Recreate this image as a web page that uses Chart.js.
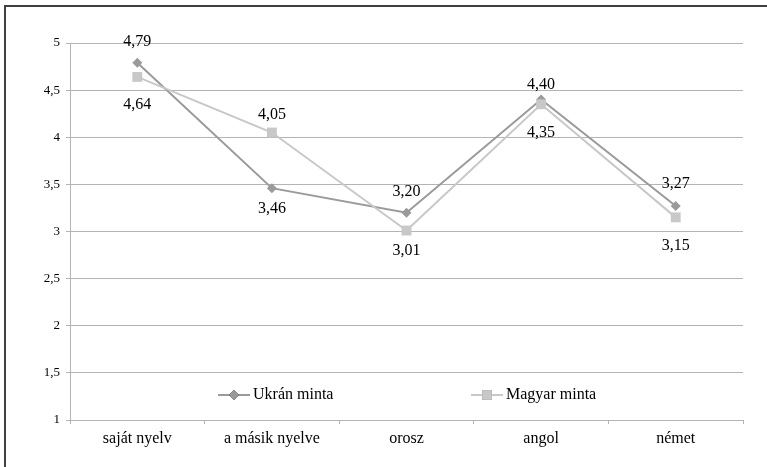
<!DOCTYPE html>
<html>
<head>
<meta charset="utf-8">
<script src="https://cdn.jsdelivr.net/npm/chart.js@4/dist/chart.umd.min.js"></script>
<style>
  html, body { margin: 0; padding: 0; background: #fff; }
  #wrap { width: 767px; height: 467px; position: relative; }
</style>
</head>
<body>
<div id="wrap"><canvas id="chart" width="767" height="467"></canvas></div>
<script>
// --- data ---
const categories = ['saját nyelv', 'a másik nyelve', 'orosz', 'angol', 'német'];
const ukranValues = [4.79, 3.46, 3.20, 4.40, 3.27];
const magyarValues = [4.64, 4.05, 3.01, 4.35, 3.15];
const seriesNames = ['Ukrán minta', 'Magyar minta'];
const yTicks = [1, 1.5, 2, 2.5, 3, 3.5, 4, 4.5, 5];

// label offsets (px from point), like excel placed them
const ukranLabelDy = [-21, 21, -21, -15, -22];
const magyarLabelDy = [28, -18, 20, 29, 28];

const FONT = '"Liberation Serif", "DejaVu Serif", serif';
const GRID = '#b4b4b4';
const UKR_COLOR = '#9a9a9a';
const MAG_COLOR = '#c8c8c8';

function fmt(v, digits) {
  return v.toFixed(digits).replace('.', ',');
}

// frame: only top + left edge visible (cropped picture)
const framePlugin = {
  id: 'frame',
  beforeDraw(chart) {
    const c = chart.ctx;
    c.save();
    c.fillStyle = '#fff';
    c.fillRect(0, 0, chart.width, chart.height);
    c.strokeStyle = '#404040';
    c.lineWidth = 2;
    c.beginPath();
    c.moveTo(5, chart.height);
    c.lineTo(5, 6);
    c.lineTo(chart.width, 6);
    c.stroke();
    c.restore();
  }
};

// value labels
const valueLabels = {
  id: 'valueLabels',
  afterDatasetsDraw(chart) {
    const c = chart.ctx;
    const offsets = [ukranLabelDy, magyarLabelDy];
    c.save();
    c.font = '16px ' + FONT;
    c.fillStyle = '#000';
    c.textAlign = 'center';
    c.textBaseline = 'middle';
    chart.data.datasets.forEach((ds, di) => {
      const meta = chart.getDatasetMeta(di);
      meta.data.forEach((pt, i) => {
        c.fillText(fmt(ds.data[i], 2), pt.x, pt.y + offsets[di][i]);
      });
    });
    c.restore();
  }
};

// legend sits inside the plot, near the bottom
const insideLegend = {
  id: 'insideLegend',
  afterDraw(chart) {
    const c = chart.ctx;
    const xs = [218, 471];
    const y = 395;
    c.save();
    chart.data.datasets.forEach((ds, i) => {
      const x0 = xs[i];
      c.strokeStyle = ds.borderColor;
      c.lineWidth = 2;
      c.beginPath();
      c.moveTo(x0, y);
      c.lineTo(x0 + 32, y);
      c.stroke();
      Chart.helpers.drawPoint(c, {
        pointStyle: ds.pointStyle,
        radius: ds.pointRadius,
        borderWidth: 0
      }, x0 + 16, y);
      c.fillStyle = ds.borderColor;
      c.fill();
      c.fillStyle = '#000';
      c.font = '16px ' + FONT;
      c.textAlign = 'left';
      c.textBaseline = 'middle';
      c.fillText(ds.label, x0 + 35, y);
    });
    c.restore();
  }
};

const ctx = document.getElementById('chart').getContext('2d');
new Chart(ctx, {
  type: 'line',
  data: {
    labels: categories,
    datasets: [
      {
        label: seriesNames[0],
        data: ukranValues,
        borderColor: UKR_COLOR,
        backgroundColor: UKR_COLOR,
        borderWidth: 2,
        pointStyle: 'rectRot',
        pointRadius: 5,
        pointBorderWidth: 0,
        tension: 0,
        order: 1
      },
      {
        label: seriesNames[1],
        data: magyarValues,
        borderColor: MAG_COLOR,
        backgroundColor: MAG_COLOR,
        borderWidth: 2,
        pointStyle: 'rect',
        pointRadius: 7,
        pointBorderWidth: 0,
        tension: 0,
        order: 0
      }
    ]
  },
  options: {
    responsive: false,
    animation: false,
    devicePixelRatio: 1,
    layout: { padding: { top: 43, right: 24, left: 0, bottom: 0 } },
    plugins: { legend: { display: false }, tooltip: { enabled: false } },
    scales: {
      x: {
        offset: true,
        grid: { offset: true, drawOnChartArea: false, color: GRID, tickLength: 4 },
        border: { color: GRID, width: 1 },
        ticks: { color: '#000', font: { family: FONT, size: 16 }, padding: 5, maxRotation: 0 },
        afterFit(scale) { scale.height = 47; }
      },
      y: {
        min: 1,
        max: 5,
        afterBuildTicks(scale) { scale.ticks = yTicks.map(v => ({ value: v })); },
        grid: { color: GRID, tickLength: 4 },
        border: { color: GRID, width: 1 },
        ticks: {
          color: '#000',
          font: { family: FONT, size: 13 },
          padding: 6,
          callback: v => String(v).replace('.', ',')
        },
        afterFit(scale) { scale.width = 70; }
      }
    }
  },
  plugins: [framePlugin, valueLabels, insideLegend]
});
</script>
</body>
</html>
